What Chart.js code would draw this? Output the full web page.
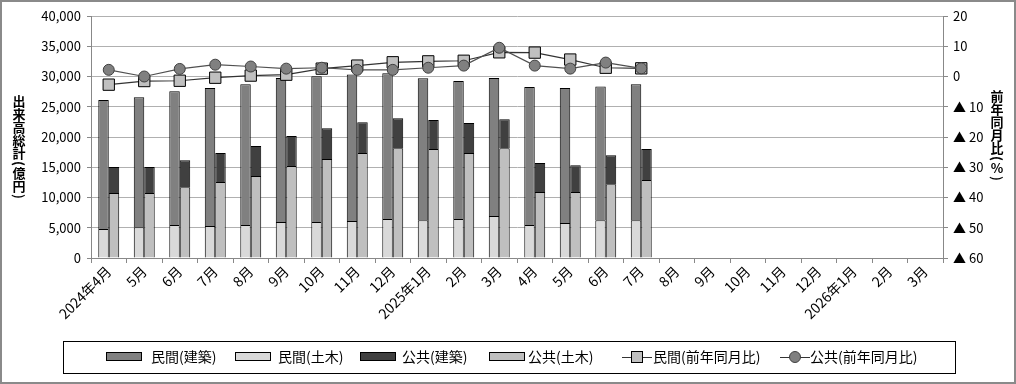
<!DOCTYPE html>
<html>
<head>
<meta charset="utf-8">
<script src="https://cdn.jsdelivr.net/npm/chart.js@4/dist/chart.umd.min.js"></script>
<style>
html,body{margin:0;padding:0;background:#fff;}
#wrap{width:1016px;height:384px;position:relative;}
</style>
</head>
<body>
<div id="wrap"><canvas id="c" width="1016" height="384"></canvas></div>
<script>
const categories = ['2024年4月','5月','6月','7月','8月','9月','10月','11月','12月','2025年1月','2月','3月','4月','5月','6月','7月','8月','9月','10月','11月','12月','2026年1月','2月','3月'];
const minkanKenchiku = [21300,21450,22100,22800,23250,23800,24100,24250,24100,23450,22800,22800,22800,22300,22100,22450];
const minkanDoboku   = [4800,5100,5450,5300,5450,5950,5950,6100,6450,6250,6450,6950,5450,5800,6250,6250];
const kokyoKenchiku  = [4300,4300,4450,4800,4950,4950,5100,5100,4950,4800,4950,4800,4800,4450,4800,5100];
const kokyoDoboku    = [10750,10750,11700,12550,13550,15200,16350,17350,18150,18000,17350,18150,10900,10900,12200,12900];
const minkanYoY = [-2.7,-1.5,-1.4,-0.4,0.3,0.6,2.6,3.6,4.7,5.0,5.2,8.0,7.9,5.6,2.9,2.7];
const kokyoYoY  = [2.2,0.0,2.5,3.9,3.3,2.6,2.9,2.2,2.2,2.9,3.6,9.5,3.6,2.6,4.6,2.7];
const leftTicks = {min:0, max:40000, step:5000};
const rightTicks = {min:-60, max:20, step:10};
const leftTitle = '出来高総計(億円)';
const rightTitle = '前年同月比(%)';

const FONT = "'Noto Sans CJK JP', 'Noto Sans', sans-serif";
Chart.defaults.font.family = FONT;
Chart.defaults.color = '#000';

function drawVertical(ctx, text, cx, top, size){
  ctx.save();
  ctx.font = 'bold ' + size + 'px ' + FONT;
  ctx.fillStyle = '#000';
  ctx.textAlign = 'center';
  ctx.textBaseline = 'middle';
  let y = top;
  for (const ch of text){
    if (ch === '(' || ch === ')'){
      const adv = ctx.measureText(ch).width + 2;
      ctx.save();
      ctx.translate(cx, y + adv/2);
      ctx.rotate(Math.PI/2);
      ctx.fillText(ch, 0, 0);
      ctx.restore();
      y += adv;
    } else {
      ctx.fillText(ch, cx, y + size/2);
      y += size;
    }
  }
  ctx.restore();
}

const legendItems = [
  {type:'bar', color:'#808080', text:'民間(建築)', x:106, tx:151},
  {type:'bar', color:'#d9d9d9', text:'民間(土木)', x:235, tx:278},
  {type:'bar', color:'#404040', text:'公共(建築)', x:360, tx:402},
  {type:'bar', color:'#bfbfbf', text:'公共(土木)', x:489, tx:528},
  {type:'rect', color:'#c0c0c0', text:'民間(前年同月比)', x:622, tx:653},
  {type:'circle', color:'#808080', text:'公共(前年同月比)', x:780, tx:810}
];

const decor = {
  id:'decor',
  afterDraw(chart){
    const ctx = chart.ctx;
    ctx.save();
    // outer border
    ctx.strokeStyle = '#8a8a8a';
    ctx.lineWidth = 2;
    ctx.strokeRect(1,1,1014,382);
    // legend box
    ctx.strokeStyle = '#000';
    ctx.lineWidth = 1;
    ctx.strokeRect(63.5,341.5,892,32);
    ctx.font = '14px ' + FONT;
    ctx.textBaseline = 'middle';
    ctx.textAlign = 'left';
    const cy = 357;
    legendItems.forEach(it=>{
      if (it.type === 'bar'){
        ctx.fillStyle = it.color;
        ctx.fillRect(it.x+0.5, cy-4.5, 35, 8);
        ctx.strokeStyle = '#000';
        ctx.strokeRect(it.x+0.5, cy-4.5, 35, 8);
      } else {
        ctx.strokeStyle = '#333';
        ctx.lineWidth = 1;
        ctx.beginPath();
        ctx.moveTo(it.x, cy+0.5); ctx.lineTo(it.x+30, cy+0.5); ctx.stroke();
        ctx.fillStyle = it.color;
        if (it.type === 'rect'){
          ctx.fillRect(it.x+9.5, cy-5.5, 11, 11);
          ctx.strokeStyle = '#000';
          ctx.strokeRect(it.x+9.5, cy-5.5, 11, 11);
        } else {
          ctx.beginPath(); ctx.arc(it.x+15, cy, 5.5, 0, Math.PI*2); ctx.fill();
          ctx.strokeStyle = '#404040'; ctx.stroke();
        }
      }
      ctx.fillStyle = '#000';
      ctx.fillText(it.text, it.tx, cy);
    });
    ctx.restore();
    drawVertical(ctx, leftTitle, 19, 95, 13);
    drawVertical(ctx, rightTitle, 997, 90, 13);
  }
};

new Chart(document.getElementById('c'), {
  type:'bar',
  data:{
    labels: categories,
    datasets:[
      {type:'line', label:'公共(前年同月比)', data:kokyoYoY, yAxisID:'y1', order:0,
        borderColor:'#505050', borderWidth:1.2, backgroundColor:'#808080',
        pointStyle:'circle', pointRadius:5.5, pointBorderColor:'#404040', pointBorderWidth:1, tension:0},
      {type:'line', label:'民間(前年同月比)', data:minkanYoY, yAxisID:'y1', order:1,
        borderColor:'#333333', borderWidth:1.2, backgroundColor:'#c0c0c0',
        pointStyle:'rect', pointRadius:8, pointBorderColor:'#000', pointBorderWidth:1, tension:0},
      {label:'民間(土木)', data:minkanDoboku, stack:'p', backgroundColor:'#d9d9d9', borderColor:'#000', borderWidth:1, order:2},
      {label:'民間(建築)', data:minkanKenchiku, stack:'p', backgroundColor:'#808080', borderColor:'#000', borderWidth:1, order:2},
      {label:'公共(土木)', data:kokyoDoboku, stack:'g', backgroundColor:'#bfbfbf', borderColor:'#000', borderWidth:1, order:2},
      {label:'公共(建築)', data:kokyoKenchiku, stack:'g', backgroundColor:'#404040', borderColor:'#000', borderWidth:1, order:2}
    ]
  },
  options:{
    responsive:false,
    animation:false,
    layout:{padding:{top:16,left:0,right:0,bottom:0}},
    datasets:{bar:{barPercentage:1.0, categoryPercentage:0.59}},
    plugins:{legend:{display:false}, tooltip:{enabled:false}},
    scales:{
      x:{
        stacked:true,
        grid:{drawOnChartArea:false, tickLength:5, color:'#888', offset:true},
        border:{color:'#888'},
        ticks:{autoSkip:false, minRotation:45, maxRotation:45, font:{size:14}, padding:0, color:'#000'},
        afterFit(s){ s.height = 126; }
      },
      y:{
        stacked:true,
        position:'left',
        min:leftTicks.min, max:leftTicks.max,
        grid:{color:'#b0b0b0', tickLength:4, tickColor:'#888'},
        border:{color:'#888'},
        ticks:{stepSize:leftTicks.step, font:{size:13}, padding:6, color:'#000',
          callback:v=>v.toLocaleString('en-US')},
        afterFit(s){ s.width = 91; }
      },
      y1:{
        position:'right',
        min:rightTicks.min, max:rightTicks.max,
        grid:{drawOnChartArea:false, tickLength:5, color:'#888'},
        border:{color:'#888'},
        ticks:{stepSize:rightTicks.step, font:{size:13}, padding:5, color:'#000',
          callback:v=> v<0 ? '▲ ' + (-v) : String(v)},
        afterFit(s){ s.width = 73; }
      }
    }
  },
  plugins:[decor]
});
</script>
</body>
</html>
